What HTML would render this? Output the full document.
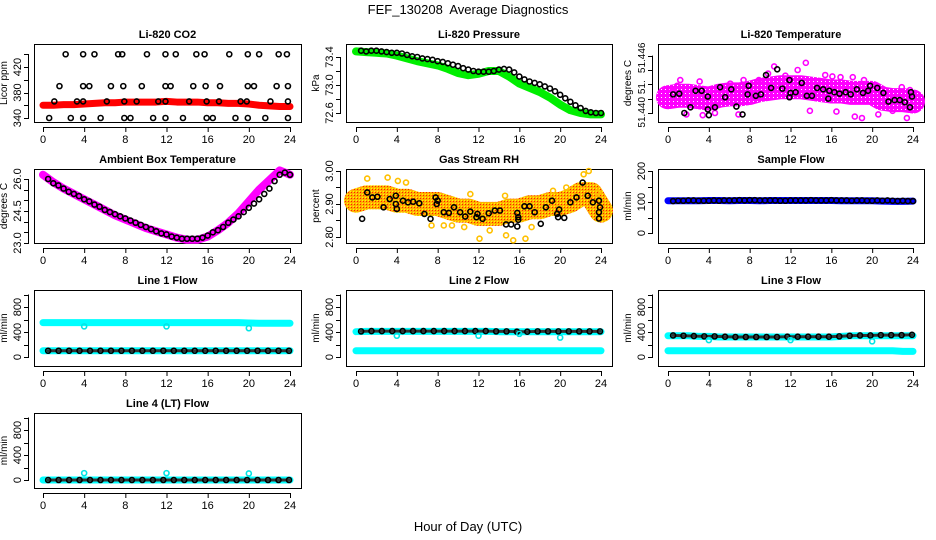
<!DOCTYPE html>
<html><head><meta charset="utf-8"><style>
html,body{margin:0;padding:0;background:#fff;}
svg{display:block;font-family:"Liberation Sans",sans-serif;}
</style></head><body>
<svg id="chart" width="936" height="540" viewBox="0 0 936 540" xmlns="http://www.w3.org/2000/svg">
<defs>
<pattern id="rhpat" width="3" height="3" patternUnits="userSpaceOnUse">
<rect width="3" height="3" fill="#ffb000"/><rect width="1" height="1" fill="#ff2000"/><rect x="2" y="2" width="1" height="1" fill="#ffff00"/>
</pattern>
<pattern id="ltpat" width="4" height="4" patternUnits="userSpaceOnUse">
<rect width="4" height="4" fill="#ff00ff"/><rect x="1" y="1" width="1" height="1" fill="#ffffff"/>
</pattern>
</defs>
<text x="468" y="14" text-anchor="middle" font-size="13">FEF_130208&#160; Average Diagnostics</text>
<text x="468" y="531" text-anchor="middle" font-size="13">Hour of Day (UTC)</text>
</svg>
<script>
// ---- data ----
const co2BandHours=[0,1,2,3,4,5,6,7,8,9,10,11,12,13,14,15,16,17,18,19,20,21,22,23,24];
const co2Band=[360,360,361,361,362,363,364,364,365,365,365,365,366,365,365,365,364,364,363,363,362,360,359,358,358];
const co2PtHours=[2.2,3.9,5,7.3,7.7,10.1,11.9,12.9,14.9,15.7,18.1,19.9,21,22.9,23.7,1.6,3.9,4.5,6.6,7.8,9.6,11.9,12.4,14.6,15.8,17.2,19.9,20.5,22.7,23.8,1.1,3.3,3.9,6.2,7.9,9.1,11.2,11.9,14.2,15.9,17.1,19.2,19.8,22.1,23.8,0.6,2.7,3.9,5.6,7.9,8.5,10.7,11.9,13.6,15.9,16.5,18.7,19.9,21.6,23.8];
const co2Pts=[440,440,440,440,440,440,440,440,440,440,440,440,440,440,440,390,390,390,390,390,390,390,390,390,390,390,390,390,390,390,366,366,366,366,366,366,366,366,366,366,366,366,366,366,366,340,340,340,340,340,340,340,340,340,340,340,340,340,340,340];

const presBand=[73.48,73.47,73.46,73.45,73.42,73.38,73.34,73.31,73.28,73.23,73.17,73.14,73.16,73.2,73.2,73.12,73.02,72.96,72.9,72.82,72.72,72.64,72.6,72.58,72.58];
const presPts=[73.49,73.48,73.49,73.49,73.48,73.47,73.46,73.46,73.45,73.43,73.41,73.40,73.38,73.37,73.36,73.34,73.33,73.31,73.29,73.27,73.24,73.22,73.20,73.19,73.19,73.19,73.20,73.22,73.23,73.22,73.18,73.12,73.08,73.05,73.03,73.01,72.98,72.95,72.91,72.86,72.81,72.76,72.71,72.67,72.63,72.61,72.60,72.60];

const ltBand=[51.4422,51.4424,51.4424,51.4422,51.4420,51.4424,51.4426,51.4426,51.4428,51.4432,51.4434,51.4436,51.4436,51.4436,51.4434,51.4432,51.4430,51.4430,51.4428,51.4428,51.4428,51.4420,51.4418,51.4418,51.4416];
const ltOutHours=[0.3,0.9,1.2,1.8,3.1,3.4,4.6,6.1,6.9,7.4,8.9,9.8,10.4,11.5,12.7,13.5,13.9,15.4,16.1,16.5,16.9,18.1,18.3,19.0,19.2,20.6,22.0,22.9,23.4,23.7];
const ltOut=[51.4433,51.4438,51.4446,51.4398,51.4444,51.4397,51.4400,51.4441,51.4398,51.4446,51.4446,51.4455,51.4465,51.4452,51.4460,51.4470,51.4403,51.4453,51.4451,51.4402,51.4450,51.4450,51.4395,51.4393,51.4446,51.4398,51.4403,51.4436,51.4393,51.4432];
const ltPtHours=[0.5,1.1,1.6,2.2,2.7,3.3,3.9,3.9,4.0,4.6,5.1,5.6,6.2,6.7,7.3,7.8,7.9,8.6,9.1,9.6,10.1,10.7,11.2,11.9,11.9,12.0,12.5,13.1,13.6,14.1,14.6,15.2,15.7,15.8,16.3,16.8,17.4,17.9,18.5,19.1,19.6,19.8,20.5,21.1,21.6,22.2,22.7,23.2,23.7,23.8,23.9];
const ltPts=[51.4426,51.4427,51.4400,51.4408,51.4431,51.4431,51.4405,51.4423,51.4397,51.4408,51.4436,51.4422,51.4433,51.4409,51.4398,51.4426,51.4438,51.4424,51.4426,51.4453,51.4435,51.4461,51.4434,51.4422,51.4446,51.4428,51.4429,51.4442,51.4424,51.4424,51.4435,51.4433,51.4420,51.4431,51.4429,51.4427,51.4429,51.4426,51.4433,51.4428,51.4431,51.4438,51.4435,51.4428,51.4416,51.4418,51.4418,51.4415,51.4408,51.4429,51.4423];

const ambBand=[26.2,25.85,25.55,25.3,25.05,24.8,24.55,24.3,24.1,23.9,23.7,23.55,23.4,23.25,23.15,23.15,23.3,23.6,23.95,24.4,24.95,25.5,25.95,26.4,26.2];
const ambPts=[26.0,25.8,25.7,25.55,25.4,25.3,25.2,25.05,24.95,24.8,24.7,24.55,24.45,24.35,24.25,24.15,24.05,23.95,23.85,23.75,23.65,23.55,23.45,23.4,23.3,23.25,23.2,23.2,23.2,23.2,23.25,23.35,23.5,23.6,23.75,23.95,24.1,24.25,24.45,24.65,24.85,25.05,25.3,25.55,25.9,26.2,26.3,26.2];

const rhBand=[2.91,2.92,2.92,2.92,2.91,2.91,2.90,2.90,2.90,2.89,2.88,2.88,2.87,2.87,2.87,2.88,2.88,2.89,2.89,2.90,2.90,2.91,2.93,2.93,2.88];
const rhOutHours=[1.1,3.1,4.1,4.9,7.4,8.6,9.4,10.6,11.2,12.1,13.1,14.6,14.7,15.4,16.6,17.2,19.3,20.6,22.3,22.8,23.7];
const rhOut=[2.977,2.98,2.97,2.965,2.835,2.835,2.835,2.83,2.93,2.795,2.82,2.925,2.805,2.79,2.795,2.83,2.94,2.95,2.99,3.0,2.935];
const rhPtHours=[0.6,1.1,1.6,2.1,2.7,3.3,3.9,3.9,4.0,4.6,5.1,5.6,6.2,6.7,7.3,7.8,7.9,8.0,8.6,9.1,9.6,10.2,10.7,11.2,11.8,11.9,12.4,13.0,13.6,14.1,14.7,15.2,15.8,15.8,15.9,15.9,16.5,17.0,17.5,18.1,18.6,19.2,19.7,19.8,19.9,20.4,21.0,21.6,22.2,22.7,23.2,23.8,23.8,23.8,23.9];
const rhPts=[2.855,2.935,2.92,2.922,2.89,2.915,2.925,2.90,2.885,2.91,2.905,2.907,2.902,2.87,2.855,2.92,2.90,2.91,2.875,2.873,2.89,2.875,2.862,2.877,2.86,2.87,2.855,2.872,2.88,2.88,2.838,2.838,2.832,2.873,2.86,2.852,2.893,2.893,2.875,2.84,2.89,2.91,2.87,2.86,2.883,2.858,2.905,2.92,2.965,2.925,2.905,2.91,2.875,2.856,2.89];

const sfBand=[104,104,104,104,105,105,104,105,105,104,105,105,105,105,105,105,105,104,104,104,104,103,102,102,103];
const sfPts=[103,104,104,105,105,104,104,104,105,104,105,105,105,106,105,106,106,105,105,105,105,104,104,105,105,105,105,106,105,105,105,106,105,105,105,104,105,105,104,104,105,104,105,104,103,104,103,103];

const l1Upper=[550,550,550,550,550,550,550,550,550,550,550,550,550,550,550,550,550,550,550,550,545,540,540,540,540];
const l1Lower=[100,100,100,100,100,100,100,100,100,100,100,100,100,100,100,100,100,100,100,100,100,100,100,100,100];
const l1Pts=[100,100,100,100,100,100,100,100,100,100,100,100,100,100,100,100,100,100,100,100,100,100,100,100];
const l1OutHours=[4,12,20];const l1Out=[490,490,460];

const l2Upper=[405,410,410,410,410,410,410,410,410,410,410,410,410,410,405,405,405,405,405,405,405,405,405,405,405];
const l2Lower=[100,100,100,100,100,100,100,100,100,100,100,100,100,100,100,100,100,100,100,100,100,100,100,100,100];
const l2Pts=[410,415,415,415,415,415,415,415,415,415,415,415,415,410,410,405,405,410,410,410,410,410,410,410];
const l2OutHours=[4,12,16,20];const l2Out=[340,340,370,310];

const l3Upper=[340,340,340,330,330,320,320,320,320,320,320,320,320,320,320,320,320,330,340,340,340,340,340,340,340];
const l3Lower=[100,100,100,100,100,100,100,100,100,100,100,100,100,100,100,100,100,100,100,100,100,100,100,90,90];
const l3Pts=[345,340,335,330,330,325,320,320,320,320,320,325,325,325,325,325,330,340,345,345,350,350,350,355];
const l3OutHours=[4,12,20];const l3Out=[270,270,250];

const l4Band=[0,0,0,0,0,0,0,0,0,0,0,0,0,0,0,0,0,0,0,0,0,0,0,0,0];
const l4Pts=[0,0,0,0,0,0,0,0,0,0,0,0,0,0,0,0,0,0,0,0,0,0,0,0];
const l4OutHours=[4,12,20];const l4Out=[110,110,105];

const xTicks=[0,4,8,12,16,20,24];

// ---- layout ----
const NS="http://www.w3.org/2000/svg";
const svg=document.getElementById('chart');
const cols=[[34,301,43,290],[346,612,356,601],[658,924,668,913]];
const rows=[[44,122],[169,243],[290,366],[413,488]];
function mk(tag,attrs,parent){const e=document.createElementNS(NS,tag);for(const k in attrs)e.setAttribute(k,attrs[k]);(parent||svg).appendChild(e);return e;}
function lin(d0,p0,d1,p1){return v=>p0+(v-d0)*(p1-p0)/(d1-d0);}

function panel(name,ci,ri,title,ylab,ymap,yTicks,yLabVals,yLabText,labFs){
  const [bl,br,x0,x24]=cols[ci];const [bt,bb]=rows[ri];
  const g=mk('g',{});
  
  
  const xs=lin(0,x0,24,x24);
  const box=mk('rect',{x:bl+0.5,y:bt+0.5,width:br-bl,height:bb-bt,fill:'none',stroke:'#000','stroke-width':1},g);
  
  
  const t=mk('text',{x:(bl+br)/2,y:bt-6,'text-anchor':'middle','font-size':11,'font-weight':'bold'},g);t.textContent=title;
  
  
  const xa=mk('g',{},g);
  
  
  mk('line',{x1:xs(0),x2:xs(24),y1:bb+5.5,y2:bb+5.5,stroke:'#000'},xa);
  xTicks.forEach(v=>{mk('line',{x1:xs(v)+0.5,x2:xs(v)+0.5,y1:bb+5,y2:bb+10,stroke:'#000'},xa);
    const l=mk('text',{x:xs(v),y:bb+21,'text-anchor':'middle','font-size':11},xa);l.textContent=v;});
  const ya=mk('g',{},g);
  
  
  mk('line',{x1:bl-5.5,x2:bl-5.5,y1:ymap(yTicks[0]),y2:ymap(yTicks[yTicks.length-1]),stroke:'#000'},ya);
  yTicks.forEach(v=>mk('line',{x1:bl-10,x2:bl-5,y1:Math.round(ymap(v))+0.5,y2:Math.round(ymap(v))+0.5,stroke:'#000'},ya));
  yLabVals.forEach((v,i)=>{const y=ymap(v);const l=mk('text',{x:bl-13,y:y,'text-anchor':'middle','font-size':labFs||11,transform:`rotate(-90 ${bl-13} ${y})`},ya);l.textContent=yLabText[i];});
  const yl=mk('text',{x:bl-27,y:(bt+bb)/2,'text-anchor':'middle','font-size':10,transform:`rotate(-90 ${bl-27} ${(bt+bb)/2})`},g);yl.textContent=ylab;
  
  
  return {g,xs,ymap};
}
function band(p,hours,vals,color,w,nm,op){
  const pts=vals.map((v,i)=>p.xs(hours?hours[i]:i)+','+p.ymap(v)).join(' ');
  const e=mk('polyline',{points:pts,fill:'none',stroke:color,'stroke-width':w,'stroke-linecap':'round','stroke-linejoin':'round','stroke-opacity':op||1},p.g);
  
  
}
function pts(p,hours,vals,color,nm,r,sw){
  const g=mk('g',{},p.g);
  
  
  vals.forEach((v,i)=>{const c=mk('circle',{cx:p.xs(hours[i]),cy:p.ymap(v),r:r||2.5,fill:'none',stroke:color,'stroke-width':sw||1.6},g);
    
    });
}
const half=n=>Array.from({length:n},(_,i)=>0.5*(i+1));
const spread=n=>Array.from({length:n},(_,i)=>0.5+i*23.4/(n-1));

// CO2
let p=panel('co2',0,0,'Li-820 CO2','Licor ppm',lin(340,118,420,67),[340,360,380,400,420,440],[340,380,420],['340','380','420']);
band(p,co2BandHours,co2Band,'#ff0000',7,'co2-band');
pts(p,co2PtHours,co2Pts,'#000','co2-points');
// Pressure
p=panel('pressure',1,0,'Li-820 Pressure','kPa',lin(72.6,113,73.4,57),[72.6,72.8,73.0,73.2,73.4],[72.6,73.0,73.4],['72.6','73.0','73.4']);
band(p,null,presBand,'#00ee00',8,'pressure-band');
pts(p,half(presPts.length),presPts,'#000','pressure-points');
// Li temp
p=panel('li-temp',2,0,'Li-820 Temperature','degrees C',lin(51.440,113,51.446,70),[51.440,51.442,51.444,51.446,51.448],[51.4401,51.4436,51.4477],['51.440','51.','51.446'],10);
band(p,null,ltBand,'url(#ltpat)',24,'li-temp-band');
pts(p,ltOutHours,ltOut,'#ff00ff','li-temp-outliers');
pts(p,ltPtHours,ltPts,'#000','li-temp-points');
// Ambient
p=panel('ambient',0,1,'Ambient Box Temperature','degrees C',lin(23,243,26,179),[23,23.5,24,24.5,25,25.5,26],[23,24.5,26],['23.0','24.5','26.0']);
band(p,null,ambBand,'#ff00ff',8,'ambient-band');
pts(p,half(ambPts.length),ambPts,'#000','ambient-points');
// RH
p=panel('rh',1,1,'Gas Stream RH','percent',lin(2.8,237,3.0,171),[2.8,2.85,2.9,2.95,3.0],[2.8,2.9,3.0],['2.80','2.90','3.00']);
band(p,null,rhBand,'url(#rhpat)',24,'rh-band');
pts(p,rhOutHours,rhOut,'#ffc000','rh-outliers');
pts(p,rhPtHours,rhPts,'#000','rh-points');
// Sample flow
p=panel('sample-flow',2,1,'Sample Flow','ml/min',lin(0,233,200,171),[0,50,100,150,200],[0,100,200],['0','100','200']);
band(p,null,sfBand,'#0000ff',7,'sample-flow-band');
pts(p,half(sfPts.length),sfPts,'#000','sample-flow-points');
// Flows
const fl=ri=>lin(0,rows[ri][0]+67,800,rows[ri][0]+17);
const fT=[0,200,400,600,800,1000],fL=[0,400,800],fLt=['0','400','800'];
function flow(nm,ci,ri,title,up,low,bl,oh,ov){
  const q=panel(nm,ci,ri,title,'ml/min',fl(ri),fT,fL,fLt);
  if(up)band(q,null,up,'#00ffff',7,nm+'-upper-band');
  band(q,null,low,'#00ffff',7,nm+'-lower-band');
  band(q,spread(bl.length),bl,'#333',3,nm+'-line');
  pts(q,spread(bl.length),bl,'#000',nm+'-points');
  pts(q,oh,ov,'#00e5e5',nm+'-outliers');
}
flow('line1-flow',0,2,'Line 1 Flow',l1Upper,l1Lower,l1Pts,l1OutHours,l1Out);
flow('line2-flow',1,2,'Line 2 Flow',l2Upper,l2Lower,l2Pts,l2OutHours,l2Out);
flow('line3-flow',2,2,'Line 3 Flow',l3Upper,l3Lower,l3Pts,l3OutHours,l3Out);
flow('line4-flow',0,3,'Line 4 (LT) Flow',null,l4Band,l4Pts,l4OutHours,l4Out);
</script>
</body></html>
